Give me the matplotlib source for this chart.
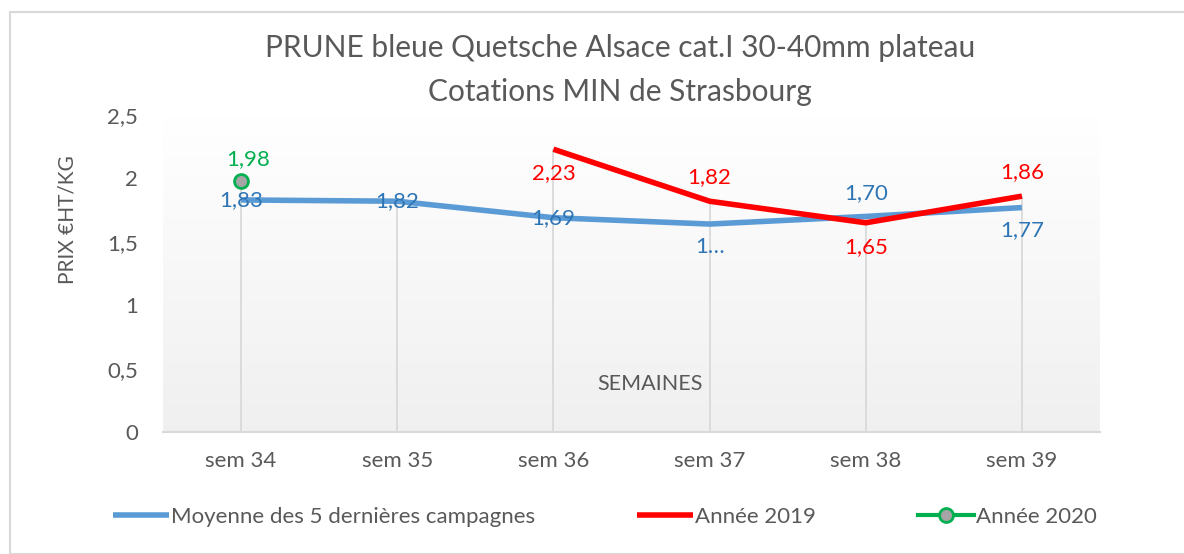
import matplotlib.pyplot as plt
import numpy as np
from matplotlib.patches import Rectangle

plt.rcParams['font.family'] = ['Lato', 'DejaVu Sans']

semaines = ['sem 34', 'sem 35', 'sem 36', 'sem 37', 'sem 38', 'sem 39']
moyenne = [1.83, 1.82, 1.69, 1.64, 1.70, 1.77]
annee_2019 = [np.nan, np.nan, 2.23, 1.82, 1.65, 1.86]
annee_2020 = [1.98, np.nan, np.nan, np.nan, np.nan, np.nan]

lbl_moy = ['1,83', '1,82', '1,69', '1…', '1,70', '1,77']
pos_moy = [0, 0, 0, -1, 1, -1]          # 0 centre, 1 above, -1 below
lbl_2019 = [None, None, '2,23', '1,82', '1,65', '1,86']
pos_2019 = [0, 0, -1, 1, -1, 1]

c_blue = '#5B9BD5'
c_red = '#FF0000'
c_green = '#00B050'
c_txt = '#595959'

fig = plt.figure(figsize=(11.84, 5.54), dpi=100)
fig.patches.append(Rectangle((10/1184, 0), 1.0, 1 - 12/554, transform=fig.transFigure,
                             fill=False, edgecolor='#d9d9d9', lw=1.5))

ax = fig.add_axes([163/1184, 1 - 432/554, 937/1184, 317/554])
x = np.arange(len(semaines))

# fond degrade blanc -> gris clair
g = np.linspace(1.0, 0.94, 256)
grad = np.dstack([g, g, g]).reshape(256, 1, 3)
ax.imshow(grad, extent=[-0.5, 5.5, 0, 2.5], aspect='auto', zorder=0, origin='upper')

# lignes de projection
tops = np.nanmax(np.vstack([moyenne, annee_2019, annee_2020]), axis=0)
ax.vlines(x, 0, tops, color='#d9d9d9', lw=1.3, zorder=1)

ax.plot(x, moyenne, color=c_blue, lw=4, solid_capstyle='butt', zorder=3,
        label='Moyenne des 5 dernières campagnes')
ax.plot(x, annee_2019, color=c_red, lw=4, solid_capstyle='butt', zorder=4,
        label='Année 2019')
ax.plot(x, annee_2020, color=c_green, lw=3, marker='o', ms=10,
        markerfacecolor='#A5A5A5', markeredgecolor=c_green, markeredgewidth=2,
        zorder=5, label='Année 2020')

for i, v in enumerate(moyenne):
    ax.annotate(lbl_moy[i], (i, v), xytext=(0, 23 * pos_moy[i]), textcoords='offset pixels',
                ha='center', va='center', color='#2E75B6', fontsize=16, zorder=6)
for i, v in enumerate(annee_2019):
    if lbl_2019[i]:
        ax.annotate(lbl_2019[i], (i, v), xytext=(0, 24 * pos_2019[i]), textcoords='offset pixels',
                    ha='center', va='center', color=c_red, fontsize=16, zorder=6)
ax.annotate('1,98', (0, annee_2020[0]), xytext=(7, 22), textcoords='offset pixels',
            ha='center', va='center', color=c_green, fontsize=16, zorder=6)

ax.set_xlim(-0.5, 5.5)
ax.set_ylim(0, 2.5)
ax.set_yticks([0, 0.5, 1, 1.5, 2, 2.5])
ax.set_yticklabels(['0', '0,5', '1', '1,5', '2', '2,5'])
ax.set_xticks(x)
ax.set_xticklabels(semaines)
ax.tick_params(length=0, labelsize=16, colors=c_txt)
ax.tick_params(axis='x', pad=14)
ax.tick_params(axis='y', pad=18)
for s in ['top', 'right', 'left']:
    ax.spines[s].set_visible(False)
ax.spines['bottom'].set_color('#d9d9d9')
ax.spines['bottom'].set_linewidth(1.5)

ax.text(2.62, 0.38, 'SEMAINES', ha='center', va='center', color=c_txt, fontsize=15.5)
fig.text(68/1184, 1 - 220/554, 'PRIX €HT/KG', rotation=90, ha='center', va='center',
         color=c_txt, fontsize=15)

fig.text(620/1184, 1 - 48/554, 'PRUNE bleue Quetsche Alsace cat.I 30-40mm plateau',
         ha='center', va='center', color=c_txt, fontsize=21.5)
fig.text(620/1184, 1 - 92/554, 'Cotations MIN de Strasbourg',
         ha='center', va='center', color=c_txt, fontsize=21.5)

fig.legend(loc='center', bbox_to_anchor=(0.511, 1 - 517/554), ncol=3, frameon=False,
           fontsize=16, labelcolor=c_txt, handlelength=2.5, handletextpad=0.1,
           columnspacing=4.6)

fig.savefig('out.png', dpi=100)
